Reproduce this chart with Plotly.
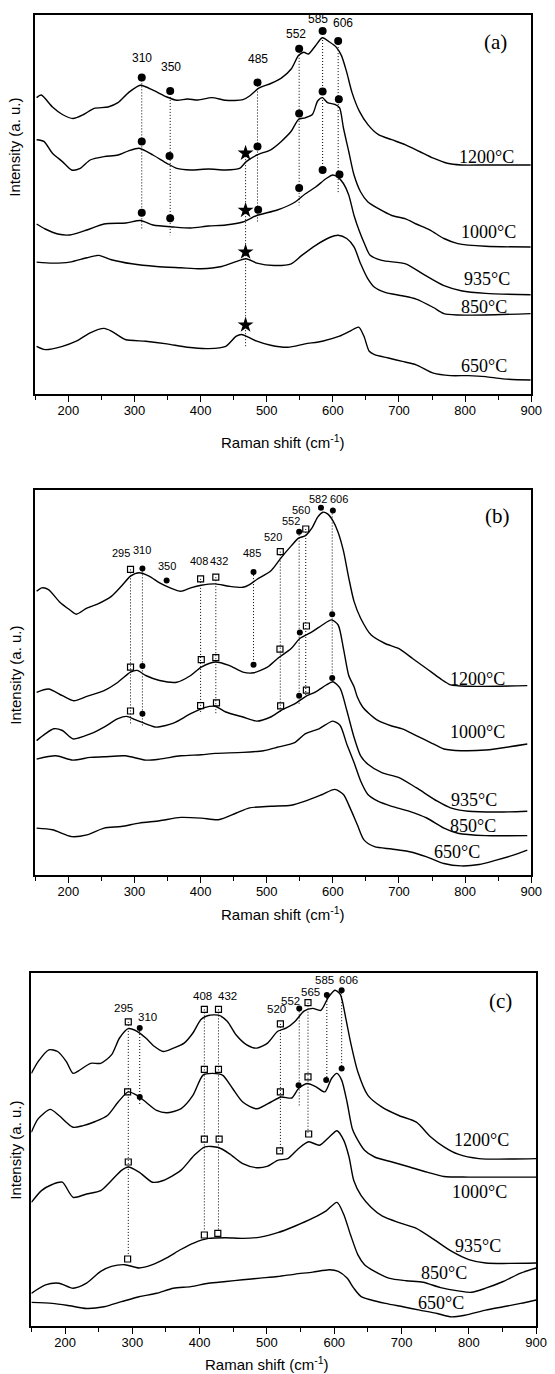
import plotly.graph_objects as go

W, H = 555, 1374

# ---------------- Panel (a) data ----------------
a_x_1200 = [152,159,176,191,207,223,239,260,275,291,309,328,349,364,380,396,417,438,464,474,488,506,522,537,548,556,563,574,584,595,605,613,621,629,640,653,669,689,710,731,752,773,794,831,899]
a_y_1200 = [296.4,299,287,279.5,275.5,279.5,285.6,287,291.3,301.4,308.8,303.8,297,293.7,295,294,296.4,293.7,294.3,298,305.8,310.5,315.9,325,338.4,341.8,340,348.5,356.3,352,346.9,338.4,321.6,301.4,282.9,269.4,259.3,254.3,249.2,242.5,235.8,230.7,229,229,229]
a_x_1000 = [152,163,176,191,205,218,233,254,275,291,307,328,349,364,385,412,438,459,469,485,506,522,537,548,558,569,577,584,592,603,610,616,624,632,642,653,669,689,710,726,747,768,789,831,899]
a_y_1000 = [254.3,252.6,240.8,232.4,224,225.6,234,237.4,239,243.2,245.8,239,230.7,225.6,224,225,224,225.6,232.4,239,244.2,252.6,262.7,274.5,276.2,279.5,293,296.4,291.3,289.6,286.3,266,242.5,219,202,192,185.3,178.5,175.1,170,163.9,155.5,150.4,147.7,147]
a_x_935 = [152,165,184,202,228,254,287,309,328,359,385,412,438,464,485,516,543,558,574,590,600,608,616,624,632,640,648,656,674,710,736,768,794,831,899]
a_y_935 = [170,165,160,159,164,170,171,173.5,169,167,166,168,169,172,178.5,184,192,200,207,215.5,219,216.6,210.5,199,178.5,163,150,139,133.6,130.2,120.1,108.3,103.3,100.6,99.3]
a_x_850 = [152,176,202,228,246,265,296,333,370,401,432,459,469,485,511,537,553,574,595,608,621,632,642,653,663,679,705,726,752,768,789,831,899]
a_y_850 = [131.9,130.9,131.9,136.3,138.6,134.3,130.2,127.5,126.2,125.2,127.5,133.6,135.3,130.9,128.5,130.2,138.6,148.7,156.5,158.8,155.5,147.1,130.2,115.1,106.7,101.6,98.2,94.9,86.5,80.4,79,79,80.4]
a_x_650 = [152,165,191,212,233,254,265,286,317,349,380,412,438,454,462,472,485,506,532,558,584,610,626,639,647,655,663,684,705,726,752,778,805,831,857,899]
a_y_650 = [47.7,44.4,47.7,52.8,61.2,65.6,62.9,54.5,52.8,50.1,46.7,45.4,47.7,57.8,59.5,56.8,52.8,48.7,46.7,50.1,52.8,57.8,62.9,66.9,57.8,42.7,39.3,36,32.6,29.2,20.8,18.4,18.4,17.4,15.1,14]

a_dot_x_1200 = [311, 354, 486, 549, 584.5, 608]
a_dot_y_1200 = [316.6, 303.1, 311.5, 345.2, 363, 352.9]
a_dot_x_1000 = [311, 353, 486, 549, 584.5, 609]
a_dot_y_1000 = [252.6, 238.1, 247.5, 280.5, 302.4, 294.7]
a_dot_x_935 = [311, 354, 487, 549, 584.5, 610]
a_dot_y_935 = [181.2, 175.8, 184.2, 206.1, 224, 219.6]
a_star_x = [468, 468, 468, 468]
a_star_y = [240.8, 183.6, 142, 69]
a_vline_x = [311, 354, 468, 486, 549, 584.5, 608]
a_vline_top = [316.6, 303.1, 240.8, 311.5, 345.2, 363, 352.9]
a_vline_bot = [164, 158.8, 46, 172, 188.6, 219, 200]
a_peak_labels = ["310", "350", "485", "552", "585", "606"]
a_peak_lab_x = [311, 355, 487.5, 543.6, 578, 616]
a_peak_lab_y = [336.1, 326.7, 335.1, 360.3, 374.8, 371.1]
a_temp_y = [237.4, 162.2, 115.1, 86.5, 27.5]
a_temp_x = [833, 835, 833, 828, 828]

# ---------------- Panel (b) data ----------------
b_x_1200 = [152,160,170,186,202,212,228,244,265,280,294,307,322,338,354,370,385,401,422,443,464,474,485,506,522,537,548,558,569,577,585,592,600,608,616,624,632,642,658,679,700,721,742,763,778,805,894]
b_y_1200 = [283.7,287.1,285.4,273.6,265.2,260.8,266.9,270.9,278.6,288.7,298.8,302.2,298.8,292.1,287.1,283.7,287.1,289.7,291.1,288.7,287.7,290.4,295.5,303.9,317.4,329.1,336.9,339.2,347.7,357.8,362.8,361.1,354.4,342.6,324.1,297.2,273.6,256.8,239.9,231.5,226.4,216.3,206.3,196.1,190.1,188.7,189.4]
b_x_1000 = [152,170,191,208,228,254,275,294,304,317,338,364,385,401,422,443,464,480,501,516,537,550,569,584,598,608,616,624,632,637,645,655,668,689,705,726,747,768,794,831,894]
b_y_1000 = [182.7,186,179.3,174.3,178.6,184.4,192.8,202.9,204.6,199.5,194.5,192.8,199.5,207.9,213,209.6,202.9,202.2,207.9,216.3,226.4,236.5,243.3,250,255.1,250,226.4,199.5,188.3,178,168,161.3,154.6,149,146.2,139.4,132.7,126,124.3,125,131]
b_x_935 = [152,165,178,191,207,233,254,275,288,301,317,333,359,385,406,422,438,464,485,506,522,543,558,574,590,600,611,621,632,642,653,674,700,726,758,778,805,857,894]
b_y_935 = [134.4,141.1,146.2,144.5,136.1,141.1,147.9,156.3,158.6,155.3,151.2,147.9,151.9,161.3,167.4,168.7,163,158,153.9,158,164.7,171.4,178.2,183.2,190,193.3,186.6,164.7,137.8,119.2,110.8,102.4,97.4,87.3,73.8,67.1,63.7,63,63.7]
b_x_850 = [152,181,207,233,254,286,317,338,370,401,422,464,495,516,543,558,579,600,611,621,632,642,653,668,689,716,742,768,789,831,894]
b_y_850 = [115.9,119.2,114.9,117.6,118.2,119.2,114.9,115.9,119.2,120.3,121.6,122.6,124.3,127.7,132.7,141.1,146.2,153.9,149.5,131,112.5,94,80.5,73.8,68.7,63.7,57,46.9,41.8,39.4,39.4]
b_x_650 = [152,176,205,228,254,280,307,338,370,401,427,454,474,506,537,558,584,603,616,626,637,647,663,689,716,742,768,794,821,847,873,894]
b_y_650 = [46.9,45.2,38.4,40.1,46.9,48.5,51.9,54.3,57.6,56.9,55.3,62,67.1,68.7,69.7,73.8,80.5,85.6,80.5,67.1,50.2,35.1,28.3,26,23.3,18.2,11.5,9.1,10.5,14.9,19.9,24.9]

b_sq_x_1200 = [294, 400, 423, 520.5, 559]
b_sq_y_1200 = [305.6, 296.1, 297.8, 323.4, 346]
b_dot_x_1200 = [312, 348.6, 480, 549, 582, 600]
b_dot_y_1200 = [306.6, 294.5, 302.9, 343.3, 367.2, 364.5]
b_sq_x_1000 = [294, 401, 423, 520, 560]
b_sq_y_1000 = [207.9, 215.3, 217.4, 225.8, 249]
b_dot_x_1000 = [312, 480, 550, 599]
b_dot_y_1000 = [208.9, 210.3, 242.6, 260.8]
b_sq_x_935 = [294, 400, 424, 521, 560]
b_sq_y_935 = [164, 169.4, 172.1, 169.1, 184.9]
b_dot_x_935 = [312, 549, 599]
b_dot_y_935 = [161.3, 179.2, 197]
b_vline_x = [294, 312, 400, 423, 480, 520.5, 549, 559, 599]
b_vline_top = [305.6, 306.6, 296.1, 297.8, 302.9, 323.4, 343.3, 346, 364.5]
b_vline_bot = [151, 149.5, 161, 160, 210, 163, 171, 178, 199.5]
b_peak_labels = ["295", "310", "350", "408", "432", "485", "520", "552", "560", "582", "606"]
b_peak_lab_x = [279, 311, 348.6, 398, 428, 477, 509.5, 536, 552, 578, 609]
b_peak_lab_y = [322.4, 324.8, 308.9, 314, 314, 322.4, 338.2, 354.4, 365.2, 376.3, 376.3]
b_temp_y = [196.1, 142.8, 75.5, 49.5, 23.3]
b_temp_x = [819, 819, 814, 812, 788]

# ---------------- Panel (c) data ----------------
c_x_1200 = [150,160,176,189,202,212,222,238,253,269,281,294,307,320,333,346,361,377,390,402,413,428,441,454,470,485,501,516,529,542,555,568,580,591,601,609,617,624,635,650,671,696,722,743,763,784,815,900]
c_y_1200 = [252.6,264.4,276.2,274.5,264.4,252.6,256,262.7,262.7,271.1,288,297.4,294.7,288,279.5,274.5,277.9,282.9,293,306.5,310.5,310.8,304.8,291.3,281.2,277.9,282.9,294.7,298.1,304.8,314.9,317.6,315.6,328.4,335.8,331.7,308.2,284.6,254.3,230.7,218.9,210.5,203.8,189.3,179.2,171.8,167.4,167.4]
c_x_1000 = [150,160,178,191,212,227,245,263,279,294,307,320,336,351,372,390,405,418,434,449,464,485,506,521,537,547,560,573,586,596,604,611,619,627,635,645,660,686,712,738,763,800,900]
c_y_1000 = [193.7,207.1,216.6,210.5,198.7,200.4,204.5,210.5,224,234.1,230.7,224,215.6,213.2,217.2,230.7,250.9,252.6,250.9,237.5,224,217.2,224,229,228,237.5,242.5,239.2,234.1,247.5,252.6,245.9,224,197,185.9,175.8,169,164,159,153.9,149.5,148.9,148.9]
c_x_935 = [150,165,181,196,212,232,253,269,284,294,310,330,346,372,392,408,428,444,464,485,500,516,531,547,562,578,593,604,614,622,629,640,655,671,696,722,748,774,800,825,900]
c_y_935 = [123.6,135.4,141.5,143.8,128.7,132,135.4,145.5,155.6,159,153.9,143.8,145.5,155.6,170.7,179.2,178.5,172.4,162.3,158.3,159.6,165.7,167.4,177.5,184.2,180.8,189.3,195.3,185.9,169,145.5,130.3,118.6,110.1,103.4,97.7,86.6,74.8,66.4,63,63]
c_x_850 = [150,171,191,212,232,253,269,289,310,330,351,372,392,413,439,464,490,516,542,568,588,604,614,624,635,645,660,681,707,732,758,784,804,825,851,877,900]
c_y_850 = [32.7,41.1,42.8,37.8,42.8,54.6,59.6,61.3,58,61.3,68.1,76.5,83.2,87.6,88.3,87.6,88.9,93.3,100,107.8,115.2,123.6,111.8,91.6,71.4,61.3,54.6,47.9,45.2,43.8,38.4,35.1,33.7,37.8,44.5,52.9,58]
c_x_650 = [150,181,207,232,258,284,310,336,361,387,413,439,464,490,516,542,568,593,606,619,629,640,655,676,702,727,753,774,794,825,851,877,900]
c_y_650 = [23.6,22.6,20.2,17.5,19.2,24.3,29.3,32.7,37.8,39.4,42.8,44.5,46.2,47.9,49.5,51.9,53.9,56.3,54.6,47.9,37.8,29.3,26,22.6,19.2,15.9,12.5,9.1,10.8,15.9,19.2,22.6,26]

c_sq_x_1200 = [294, 407, 428, 520, 561]
c_sq_y_1200 = [304.1, 316.6, 316.6, 302.1, 323.3]
c_dot_x_1200 = [311, 548, 589, 611]
c_dot_y_1200 = [298, 317.6, 331, 335.8]
c_sq_x_1000 = [293, 407, 428, 520, 561]
c_sq_y_1000 = [234.1, 256.6, 256.6, 234.1, 249.2]
c_dot_x_1000 = [311, 547, 588, 611]
c_dot_y_1000 = [229, 240.8, 245.9, 257.6]
c_sq_x_935 = [294, 407, 429, 519, 562]
c_sq_y_935 = [164, 186.9, 186.9, 175.1, 192]
c_sq_x_850 = [293, 407, 427]
c_sq_y_850 = [67, 91, 92.6]
c_vline_x = [294, 311, 407, 428, 520, 548, 561, 589, 611]
c_vline_top = [304.1, 298, 316.6, 316.6, 302.1, 317.6, 323.3, 331, 335.8]
c_vline_bot = [70, 220.6, 95, 95, 175, 220.6, 192, 246, 258]
c_peak_labels = ["295", "310", "408", "432", "520", "552", "565", "585", "606"]
c_peak_lab_x = [287.6, 322, 405, 441, 514.5, 535, 564, 586, 621.7]
c_peak_lab_y = [318.3, 308.8, 330, 330, 316.6, 325.5, 334, 346, 345.9]
c_temp_y = [186, 133.7, 79.8, 52.9, 22.6]
c_temp_x = [819, 816, 814, 763, 758]

temps = ["1200°C", "1000°C", "935°C", "850°C", "650°C"]
x_ticks = [200, 300, 400, 500, 600, 700, 800, 900]
x_minor = [150, 250, 350, 450, 550, 650, 750, 850]

# ---------------- layout geometry (pixels) ----------------
panels = [
    dict(name="(a)", left=36, right=542, top=15, bottom=394, xt=441, xt_x=289, yt_y=147,
         ax="x", ay="y", lab_x=846, lab_y=352, pfont=12),
    dict(name="(b)", left=36, right=542, top=490, bottom=875, xt=913, xt_x=289, yt_y=675,
         ax="x2", ay="y2", lab_x=849, lab_y=359, pfont=11),
    dict(name="(c)", left=32, right=547, top=973, bottom=1326, xt=1363, xt_x=272, yt_y=1150,
         ax="x3", ay="y3", lab_x=847, lab_y=325, pfont=11.5),
]

fig = go.Figure()


def add_curve(xs, ys, ax, ay):
    fig.add_trace(go.Scatter(x=xs, y=ys, mode="lines", xaxis=ax, yaxis=ay,
                             line=dict(color="black", width=1.4, shape="spline", smoothing=0.7),
                             showlegend=False, hoverinfo="skip"))


def add_vlines(xs, tops, bots, ax, ay):
    for x, t, b in zip(xs, tops, bots):
        fig.add_trace(go.Scatter(x=[x, x], y=[t, b], mode="lines", xaxis=ax, yaxis=ay,
                                 line=dict(color="black", width=1, dash="1px,2px"),
                                 showlegend=False, hoverinfo="skip"))


def add_markers(xs, ys, ax, ay, symbol, size, lw=0):
    fig.add_trace(go.Scatter(x=xs, y=ys, mode="markers", xaxis=ax, yaxis=ay,
                             marker=dict(symbol=symbol, size=size, color="black",
                                         line=dict(color="black", width=lw)),
                             showlegend=False, hoverinfo="skip"))


# panel a
add_vlines(a_vline_x, a_vline_top, a_vline_bot, "x", "y")
for xs, ys in [(a_x_1200, a_y_1200), (a_x_1000, a_y_1000), (a_x_935, a_y_935), (a_x_850, a_y_850), (a_x_650, a_y_650)]:
    add_curve(xs, ys, "x", "y")
for xs, ys in [(a_dot_x_1200, a_dot_y_1200), (a_dot_x_1000, a_dot_y_1000), (a_dot_x_935, a_dot_y_935)]:
    add_markers(xs, ys, "x", "y", "circle", 8)
add_markers(a_star_x, a_star_y, "x", "y", "star", 12)

# panel b
add_vlines(b_vline_x, b_vline_top, b_vline_bot, "x2", "y2")
for xs, ys in [(b_x_1200, b_y_1200), (b_x_1000, b_y_1000), (b_x_935, b_y_935), (b_x_850, b_y_850), (b_x_650, b_y_650)]:
    add_curve(xs, ys, "x2", "y2")
for xs, ys in [(b_sq_x_1200, b_sq_y_1200), (b_sq_x_1000, b_sq_y_1000), (b_sq_x_935, b_sq_y_935)]:
    add_markers(xs, ys, "x2", "y2", "square-open", 6, 1.2)
for xs, ys in [(b_dot_x_1200, b_dot_y_1200), (b_dot_x_1000, b_dot_y_1000), (b_dot_x_935, b_dot_y_935)]:
    add_markers(xs, ys, "x2", "y2", "circle", 6)

# panel c
add_vlines(c_vline_x, c_vline_top, c_vline_bot, "x3", "y3")
for xs, ys in [(c_x_1200, c_y_1200), (c_x_1000, c_y_1000), (c_x_935, c_y_935), (c_x_850, c_y_850), (c_x_650, c_y_650)]:
    add_curve(xs, ys, "x3", "y3")
for xs, ys in [(c_sq_x_1200, c_sq_y_1200), (c_sq_x_1000, c_sq_y_1000), (c_sq_x_935, c_sq_y_935), (c_sq_x_850, c_sq_y_850)]:
    add_markers(xs, ys, "x3", "y3", "square-open", 6, 1.2)
for xs, ys in [(c_dot_x_1200, c_dot_y_1200), (c_dot_x_1000, c_dot_y_1000)]:
    add_markers(xs, ys, "x3", "y3", "circle", 6)

SANS = "Arial, Liberation Sans, sans-serif"
SERIF = "Times New Roman, Liberation Serif, serif"

annotations = []
peak_sets = [
    (a_peak_labels, a_peak_lab_x, a_peak_lab_y, a_temp_x, a_temp_y),
    (b_peak_labels, b_peak_lab_x, b_peak_lab_y, b_temp_x, b_temp_y),
    (c_peak_labels, c_peak_lab_x, c_peak_lab_y, c_temp_x, c_temp_y),
]
layout_axes = {}
for i, (p, (labs, lx, ly, tx, ty)) in enumerate(zip(panels, peak_sets)):
    sfx = "" if i == 0 else str(i + 1)
    ax, ay = p["ax"], p["ay"]
    yr = p["bottom"] - p["top"]
    layout_axes["xaxis" + sfx] = dict(
        domain=[p["left"] / W, p["right"] / W], anchor=ay, range=[150, 900],
        tickmode="array", tickvals=x_ticks, ticks="outside", ticklen=6, tickwidth=1.3,
        tickcolor="black", showline=True, mirror=True, linecolor="black", linewidth=1.5,
        showgrid=False, zeroline=False, ticklabelstandoff=-2,
        minor=dict(tickmode="array", tickvals=x_minor,
                   ticks="outside", ticklen=4, tickwidth=1.3, tickcolor="black"),
        tickfont=dict(family=SANS, size=13, color="black"))
    layout_axes["yaxis" + sfx] = dict(
        domain=[1 - p["bottom"] / H, 1 - p["top"] / H], anchor=ax, range=[0, yr],
        showticklabels=False, ticks="", showline=True, mirror=True, linecolor="black",
        linewidth=1.5, showgrid=False, zeroline=False)
    for t, x, y in zip(labs, lx, ly):
        annotations.append(dict(x=x, y=y, xref=ax, yref=ay, text=t, showarrow=False,
                                xanchor="center", yanchor="middle",
                                font=dict(family=SANS, size=p["pfont"], color="black")))
    for t, x, y in zip(temps, tx, ty):
        annotations.append(dict(x=x, y=y, xref=ax, yref=ay, text=t, showarrow=False,
                                xanchor="center", yanchor="middle",
                                font=dict(family=SERIF, size=18, color="black")))
    annotations.append(dict(x=p["lab_x"], y=p["lab_y"], xref=ax, yref=ay, text=p["name"],
                            showarrow=False, xanchor="center", yanchor="middle",
                            font=dict(family=SERIF, size=21, color="black")))
    annotations.append(dict(x=15 / W, y=1 - p["yt_y"] / H, xref="paper", yref="paper",
                            text="Intensity (a. u.)", textangle=-90, showarrow=False,
                            xanchor="center", yanchor="middle",
                            font=dict(family=SANS, size=15, color="black")))
    annotations.append(dict(x=p["xt_x"] / W, y=1 - p["xt"] / H, xref="paper", yref="paper",
                            text="Raman shift (cm<sup>-1</sup>)", showarrow=False,
                            xanchor="center", yanchor="middle",
                            font=dict(family=SANS, size=15, color="black")))

fig.update_layout(width=W, height=H, margin=dict(l=0, r=0, t=0, b=0),
                  paper_bgcolor="white", plot_bgcolor="white",
                  annotations=annotations, showlegend=False, **layout_axes)

fig.write_html("out.html")
